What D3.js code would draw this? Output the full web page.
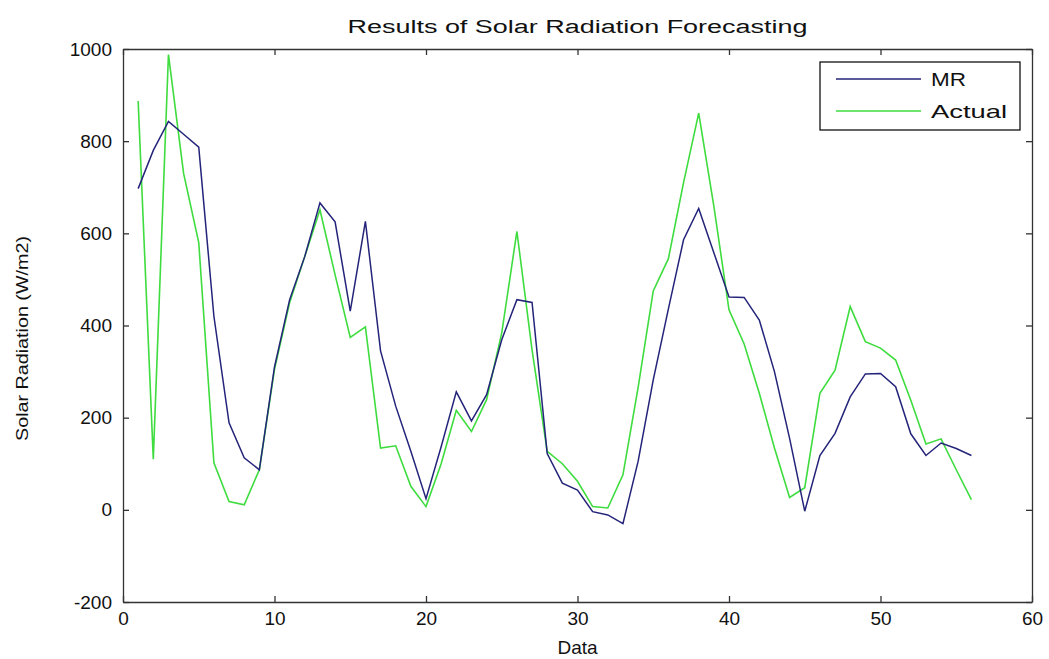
<!DOCTYPE html>
<html lang="en">
<head>
<meta charset="utf-8">
<script src="https://d3js.org/d3.v7.min.js"></script>
<title>Results of Solar Radiation Forecasting</title>
<style>
  body { margin: 0; background: #fff; }
  text { font-family: "Liberation Sans", Arial, sans-serif; fill: #111; }
</style>
</head>
<body>
<div id="chart"></div>
<script>

// forecast (MR) and measured solar radiation, W/m2, one value per data point
const dataIndex = d3.range(1, 57);
const mrValues = [
  697, 780, 843, 815, 787, 420, 189, 113, 87, 310,
  456, 550, 666, 625, 431, 626, 345, 225, 127, 24,
  137, 256, 193, 250, 369, 456, 450, 122, 58, 43,
  -4, -11, -30, 105, 282, 436, 586, 654, 558, 462,
  461, 412, 300, 155, -3, 118, 166, 245, 295, 296,
  267, 165, 118, 145, 133, 118
];
const actualValues = [
  887, 110, 988, 730, 580, 102, 18, 11, 87, 305,
  450, 550, 651, 510, 374, 397, 134, 139, 51, 7,
  100, 216, 170, 239, 384, 604, 347, 127, 100, 62,
  7, 4, 76, 265, 475, 545, 710, 861, 659, 434,
  360, 253, 134, 27, 48, 253, 303, 441, 365, 351,
  325, 238, 143, 154, 87, 22
];
const xTicks = [0, 10, 20, 30, 40, 50, 60];
const yTicks = [-200, 0, 200, 400, 600, 800, 1000];
const seriesNames = ["MR", "Actual"];

const W = 1049, H = 659;
const margin = {top: 49, right: 17, bottom: 57, left: 123};
const width = W - margin.left - margin.right,
      height = H - margin.top - margin.bottom;

const svg = d3.select("#chart")
  .append("svg")
    .attr("width", W)
    .attr("height", H);

const g = svg.append("g")
  .attr("transform", `translate(${margin.left},${margin.top})`);

const x = d3.scaleLinear().domain([0, 60]).range([0, width]);
const y = d3.scaleLinear().domain([-200, 1000]).range([height, 0]);

// boxed axes with inward ticks on every side
const tickLen = 6;
const plain = d => String(d);
g.append("g")
  .attr("transform", `translate(0,${height})`)
  .call(d3.axisBottom(x).tickValues(xTicks).tickFormat(plain).tickSizeInner(-tickLen).tickSizeOuter(0).tickPadding(10));
g.append("g")
  .call(d3.axisLeft(y).tickValues(yTicks).tickFormat(plain).tickSizeInner(-tickLen).tickSizeOuter(0).tickPadding(11));
g.append("g")
  .call(d3.axisTop(x).tickValues(xTicks).tickSizeInner(-tickLen).tickSizeOuter(0).tickFormat(""));
g.append("g")
  .attr("transform", `translate(${width},0)`)
  .call(d3.axisRight(y).tickValues(yTicks).tickSizeInner(-tickLen).tickSizeOuter(0).tickFormat(""));

g.selectAll(".domain").attr("stroke", "#333").attr("stroke-width", 1.3);
g.selectAll(".tick line").attr("stroke", "#333").attr("stroke-width", 1.3);
g.selectAll(".tick text")
  .style("font-size", "19px")
  .attr("fill", "#111");

const colors = {MR: "#24247a", Actual: "#3edc3e"};

const line = d3.line()
  .x((d, i) => x(dataIndex[i]))
  .y(d => y(d));

g.append("path")
  .datum(actualValues)
  .attr("fill", "none")
  .attr("stroke", colors.Actual)
  .attr("stroke-width", 1.6)
  .attr("d", line);

g.append("path")
  .datum(mrValues)
  .attr("fill", "none")
  .attr("stroke", colors.MR)
  .attr("stroke-width", 1.5)
  .attr("d", line);

// title and axis labels
svg.append("text")
  .attr("x", margin.left + width / 2)
  .attr("y", 33)
  .attr("text-anchor", "middle")
  .attr("textLength", 460)
  .attr("lengthAdjust", "spacingAndGlyphs")
  .style("font-size", "18px")
  .text("Results of Solar Radiation Forecasting");

svg.append("text")
  .attr("x", margin.left + width / 2)
  .attr("y", 654)
  .attr("text-anchor", "middle")
  .style("font-size", "19px")
  .text("Data");

svg.append("text")
  .attr("transform", `translate(28,${margin.top + height / 2 + 13}) rotate(-90)`)
  .attr("text-anchor", "middle")
  .attr("textLength", 205)
  .attr("lengthAdjust", "spacingAndGlyphs")
  .style("font-size", "17px")
  .text("Solar Radiation (W/m2)");

// legend box, top right
const legend = g.append("g")
  .attr("transform", `translate(${width - 212},13)`);
legend.append("rect")
  .attr("width", 200)
  .attr("height", 68)
  .attr("fill", "#fff")
  .attr("stroke", "#111")
  .attr("stroke-width", 1.3);
const legendTextWidth = {MR: 35, Actual: 76};
seriesNames.forEach((name, i) => {
  const ly = 17 + i * 32;
  legend.append("line")
    .attr("x1", 16).attr("x2", 101)
    .attr("y1", ly).attr("y2", ly)
    .attr("stroke", colors[name])
    .attr("stroke-width", 1.6);
  legend.append("text")
    .attr("x", 111)
    .attr("y", ly)
    .attr("dy", "0.36em")
    .attr("textLength", legendTextWidth[name])
    .attr("lengthAdjust", "spacingAndGlyphs")
    .style("font-size", "19px")
    .text(name);
});
</script>
</body>
</html>
